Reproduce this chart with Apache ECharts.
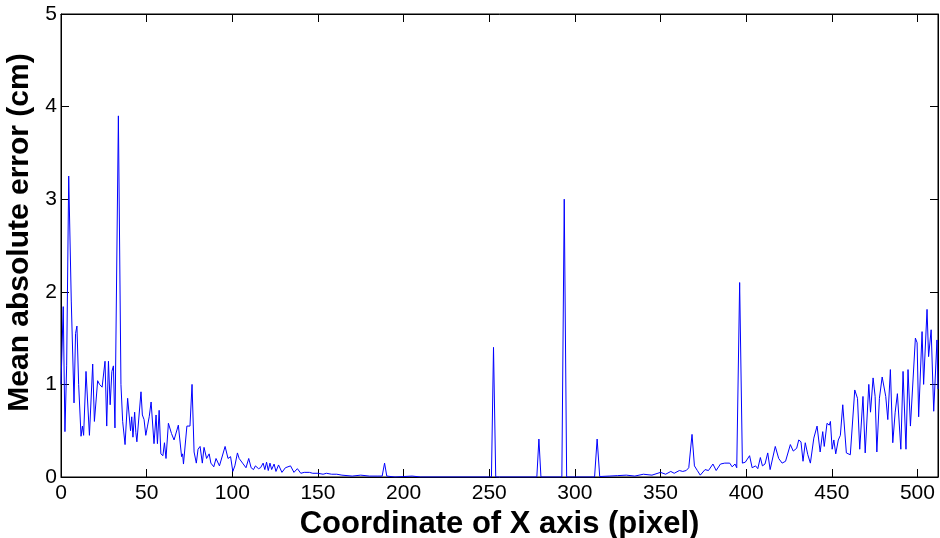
<!DOCTYPE html>
<html>
<head>
<meta charset="utf-8">
<script src="https://cdn.jsdelivr.net/npm/echarts@6/dist/echarts.min.js"></script>
<style>html,body{margin:0;padding:0;background:#fff}#c{width:940px;height:538px}</style>
</head>
<body>
<div id="c"></div>
<script>
// x coordinate (pixel)
const xs = [0,1.3,2.3,3.3,4.5,6,7.6,8.5,9.3,10.3,11.7,12.5,13.2,14.6,16.6,18.5,19.5,21.4,22.5,24,25.7,26.7,27.7,28.7,29.7,30.6,31.5,33.5,35,36,37.4,38.9,39.7,40.6,41.3,42,43,43.7,44.3,46.7,47.5,48.5,49.5,50.5,51.5,52.6,54.3,55.5,56.3,57.3,58.3,59.5,60.4,61.3,62.7,64.5,66,66.8,68.5,70.4,71,71.5,73.5,74.4,75.3,76.5,77.7,79,80,81.2,82.5,83.5,85,86.5,87.5,89.2,90.5,92.5,95.8,97.5,99,100.3,101.5,103,104,106,108,109.6,111,112.4,113.5,115.3,116.5,118,119,120,121,122,123,124.4,125.5,127,129,131,134,136,138,140,142,145,147,150,153,155,158,161,164,165,170,175,180,185,187.5,188.9,190.2,195,200,205,210,250,251.3,252.5,253.8,277.8,279,280.2,292.4,293.8,295.2,311.5,313,314.5,320,325,330,335,340,345,350,353,356,358,361,363,365,366.5,368.4,369.8,371.5,373.2,376,378,380.6,382.5,385,387.5,390.4,391.8,393.5,394.5,396.2,397.8,399.5,402,403.5,405.5,406.8,408.3,409.5,411,412.6,414,417,419,421,423,424,425.8,427.5,429.5,430.7,432,433.2,434.5,436,437.5,438.3,439.5,441.4,443.2,444.7,445.6,447.2,448.5,449.2,450.2,451.2,452.3,453.8,455,456.4,458.5,459.5,460.8,463.4,465,466.3,468.2,469.5,471.6,472.6,474.1,475.3,476.3,477.8,479.4,481.5,482.7,484.2,485.6,487,488.3,490.3,491.6,493.3,494.5,495.9,496.9,498.8,499.8,500.7,502.7,503.6,505.6,506.5,508,509.5,510.4,511.4,512];
// mean absolute error (cm)
const errs = [1.0,1.84,0.49,1.2,3.25,1.9,0.8,1.55,1.63,1.0,0.44,0.55,0.45,1.14,0.45,1.22,0.6,1.04,1.0,0.97,1.25,0.55,1.25,0.78,1.14,1.2,0.53,3.9,1.0,0.6,0.35,0.85,0.87,0.5,0.65,0.43,0.7,0.48,0.38,0.92,0.67,0.62,0.45,0.55,0.65,0.81,0.36,0.67,0.36,0.72,0.25,0.23,0.37,0.2,0.58,0.47,0.4,0.38,0.56,0.22,0.25,0.14,0.55,0.56,0.55,1.0,0.27,0.15,0.3,0.33,0.15,0.32,0.2,0.25,0.15,0.11,0.2,0.12,0.33,0.2,0.22,0.06,0.12,0.26,0.2,0.15,0.1,0.2,0.1,0.08,0.12,0.09,0.1,0.15,0.08,0.16,0.07,0.15,0.08,0.14,0.06,0.13,0.05,0.1,0.12,0.05,0.09,0.04,0.05,0.05,0.04,0.04,0.03,0.04,0.03,0.03,0.02,0.005,0.01,0.02,0.01,0.01,0.01,0.15,0.01,0,0.005,0.01,0,0,0,1.4,0,0,0.41,0,0,3.0,0,0,0.41,0.005,0.01,0.015,0.02,0.01,0.03,0.02,0.05,0.03,0.06,0.04,0.07,0.06,0.07,0.1,0.46,0.12,0.07,0.02,0.08,0.07,0.14,0.07,0.14,0.15,0.15,0.11,0.14,0.1,2.1,0.15,0.16,0.23,0.1,0.12,0.09,0.21,0.12,0.14,0.26,0.08,0.33,0.2,0.15,0.17,0.17,0.35,0.28,0.31,0.4,0.38,0.17,0.37,0.24,0.15,0.15,0.42,0.55,0.27,0.49,0.33,0.58,0.56,0.6,0.3,0.4,0.25,0.4,0.45,0.78,0.26,0.28,0.24,0.94,0.85,0.3,0.87,0.26,1.0,0.7,1.07,0.87,0.27,0.85,1.08,0.87,0.62,1.16,0.37,0.7,0.9,0.3,1.14,0.3,1.16,0.55,0.55,1.5,1.45,0.65,1.57,1.0,1.81,1.3,1.59,0.71,0.72,1.48,0.95];
const xTicks = [0,50,100,150,200,250,300,350,400,450,500];
const yTicks = [0,1,2,3,4,5];

const data = xs.map((x,i)=>[x, errs[i]]);
const font = '"Liberation Sans", Arial, sans-serif';
const chart = echarts.init(document.getElementById('c'), null, {renderer:'canvas'});
const axLine = () => ({show:true, onZero:false, lineStyle:{color:'#000', width:1}});
const tick = () => ({show:true, inside:true, length:8, lineStyle:{color:'#000', width:1}});
chart.setOption({
  animation:false,
  backgroundColor:'#fff',
  grid:{left:61, right:2, top:14, bottom:61, containLabel:false, outerBoundsMode:'none',
        show:true, borderColor:'#000', borderWidth:1, backgroundColor:'transparent'},
  xAxis:[{
    type:'value', min:0, max:512, interval:50, position:'bottom',
    name:'Coordinate of X axis (pixel)', nameLocation:'middle', nameGap:23,
    nameTextStyle:{fontFamily:font, fontSize:31, fontWeight:'bold', color:'#000'},
    axisLine:axLine(), axisTick:tick(), splitLine:{show:false},
    axisLabel:{fontFamily:font, fontSize:21, color:'#000', margin:6, showMaxLabel:true,
      formatter:v=> xTicks.includes(v) ? String(v) : ''}
  },{
    show:true, type:'value', min:0, max:512, interval:50, position:'top',
    axisLine:axLine(), axisTick:tick(), axisLabel:{show:false}, splitLine:{show:false}
  }],
  yAxis:[{
    type:'value', min:0, max:5, interval:1, position:'left',
    name:'Mean absolute error (cm)', nameLocation:'middle', nameGap:12,
    nameTextStyle:{fontFamily:font, fontSize:30, fontWeight:'bold', color:'#000', padding:[0,0,0,26]},
    axisLine:axLine(), axisTick:tick(), splitLine:{show:false},
    axisLabel:{fontFamily:font, fontSize:21, color:'#000', margin:4,
      formatter:v=> yTicks.includes(v) ? String(v) : ''}
  },{
    show:true, type:'value', min:0, max:5, interval:1, position:'right',
    axisLine:axLine(), axisTick:tick(), axisLabel:{show:false}, splitLine:{show:false}
  }],
  series:[{
    type:'line', data:data, xAxisIndex:0, yAxisIndex:0,
    showSymbol:false, symbol:'none',
    lineStyle:{color:'#0000ff', width:1}, z:1
  },{
    type:'line', data:[], xAxisIndex:1, yAxisIndex:1, showSymbol:false
  }]
});
</script>
</body>
</html>
